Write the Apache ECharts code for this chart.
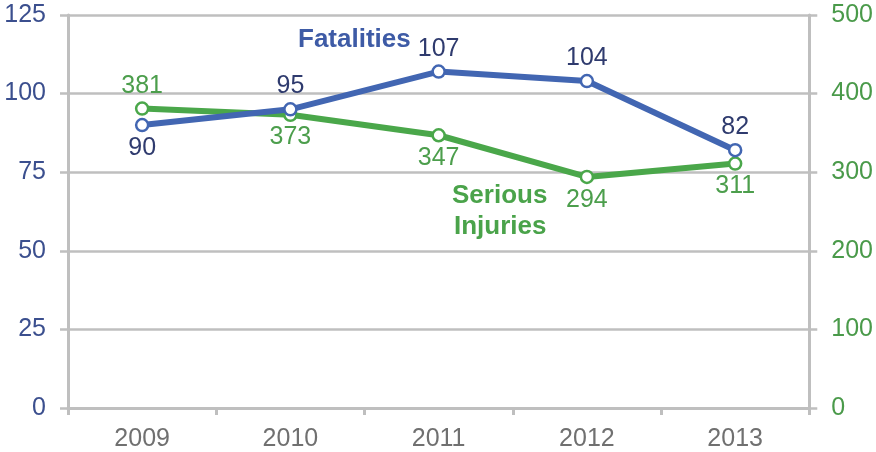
<!DOCTYPE html>
<html><head><meta charset="utf-8">
<script src="https://cdn.jsdelivr.net/npm/echarts@6/dist/echarts.min.js"></script>
<style>html,body{margin:0;padding:0;background:#fff}#c{width:876px;height:452px}</style>
</head><body><div id="c"></div>
<script>
const years = ['2009','2010','2011','2012','2013'];
const fatalities = [90, 95, 107, 104, 82];
const seriousInjuries = [381, 373, 347, 294, 311];
const fatalLabelPos = ['bottom','top','top','top','top'];
const injuryLabelPos = ['top','bottom','bottom','bottom','bottom'];
const leftTicks = [0, 25, 50, 75, 100, 125];
const rightTicks = [0, 100, 200, 300, 400, 500];

const FONT = '"Liberation Sans", Arial, sans-serif';
const blue = '#4266b2', green = '#4aa74a', gridGray = '#bfbfbf';

const chart = echarts.init(document.getElementById('c'));
chart.setOption({
  animation: false,
  textStyle: {fontFamily: FONT},
  grid: {left: 68, right: 66, top: 15, bottom: 44, containLabel: false},
  xAxis: {
    type: 'category', data: years, boundaryGap: true,
    axisLine: {lineStyle: {color: gridGray, width: 3}},
    axisTick: {show: true, length: 7, lineStyle: {color: gridGray, width: 3}},
    axisLabel: {color: '#707070', fontSize: 25, margin: 19, fontFamily: FONT}
  },
  yAxis: [{
    type: 'value', min: leftTicks[0], max: leftTicks[leftTicks.length-1], interval: 25,
    axisLine: {show: true, lineStyle: {color: gridGray, width: 3}},
    axisTick: {show: true, length: 8, lineStyle: {color: gridGray, width: 2.5}},
    splitLine: {show: true, lineStyle: {color: gridGray, width: 2.5}},
    axisLabel: {color: '#3b4f8e', fontSize: 25, margin: 22, fontFamily: FONT}
  }, {
    type: 'value', min: rightTicks[0], max: rightTicks[rightTicks.length-1], interval: 100,
    position: 'right',
    axisLine: {show: true, lineStyle: {color: gridGray, width: 3}},
    axisTick: {show: true, length: 8, lineStyle: {color: gridGray, width: 2.5}},
    splitLine: {show: false},
    axisLabel: {color: '#4a9a4a', fontSize: 25, margin: 22, fontFamily: FONT}
  }],
  series: [{
    name: 'Serious Injuries', type: 'line', yAxisIndex: 1,
    data: seriousInjuries.map((v, i) => ({value: v, label: {position: injuryLabelPos[i]}})),
    lineStyle: {color: green, width: 6},
    itemStyle: {color: '#fff', borderColor: green, borderWidth: 2.5},
    symbol: 'circle', symbolSize: 12,
    label: {show: true, color: '#4c9e4c', fontSize: 25, distance: 3, fontFamily: FONT},
    z: 2
  }, {
    name: 'Fatalities', type: 'line', yAxisIndex: 0,
    data: fatalities.map((v, i) => ({value: v, label: {position: fatalLabelPos[i]}})),
    lineStyle: {color: blue, width: 6},
    itemStyle: {color: '#fff', borderColor: blue, borderWidth: 2.5},
    symbol: 'circle', symbolSize: 12,
    label: {show: true, color: '#2f3b6e', fontSize: 25, distance: 3, fontFamily: FONT},
    z: 3
  }],
  graphic: [{
    type: 'text', left: 298, top: 27,
    style: {text: 'Fatalities', fill: '#3e5ba6', font: 'bold 26px ' + FONT}
  }, {
    type: 'text', left: 452, top: 183,
    style: {text: 'Serious', fill: '#4aa34a', font: 'bold 26px ' + FONT}
  }, {
    type: 'text', left: 454, top: 214,
    style: {text: 'Injuries', fill: '#4aa34a', font: 'bold 26px ' + FONT}
  }]
});
</script></body></html>
